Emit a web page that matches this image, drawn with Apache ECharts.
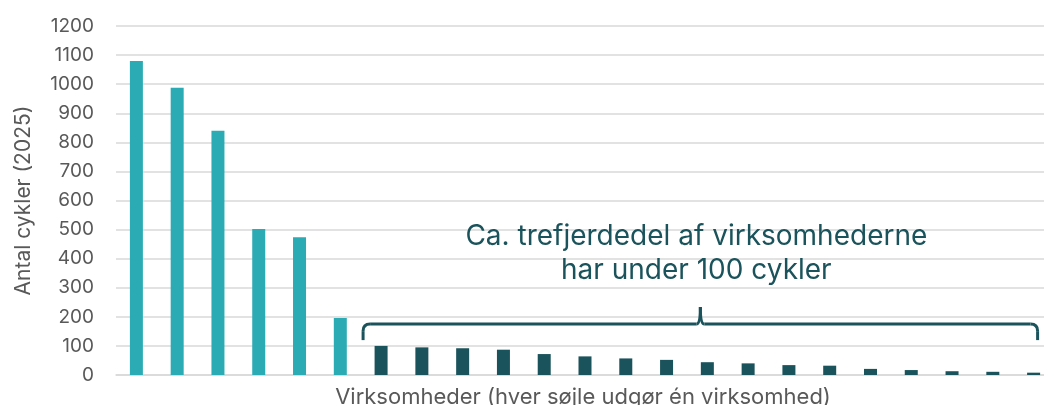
<!DOCTYPE html>
<html>
<head>
<meta charset="utf-8">
<script src="https://cdn.jsdelivr.net/npm/echarts@6/dist/echarts.min.js"></script>
<style>
  html, body { margin: 0; padding: 0; background: #fff; }
  #chart { width: 1044px; height: 405px; }
</style>
</head>
<body>
<div id="chart"></div>
<script>
// en søjle pr. virksomhed, sorteret efter antal cykler
const firms = ['V1','V2','V3','V4','V5','V6','V7','V8','V9','V10','V11','V12',
  'V13','V14','V15','V16','V17','V18','V19','V20','V21','V22','V23'];
const bikes = [1080, 988, 840, 502, 474, 196, 100, 95, 92, 87, 72, 64,
  57, 52, 44, 40, 34, 32, 21, 17, 13, 11, 8];
const largeCount = 6; // de første søjler med lys farve
const yTicks = [0, 1200, 100];
const noteLines = ['Ca. trefjerdedel af virksomhederne', 'har under 100 cykler'];

const LIGHT = '#2BABB3';
const DARK = '#1A535B';
const FONT = 'Inter';

var myChart = echarts.init(document.getElementById('chart'));

myChart.setOption({
  animation: false,
  grid: {
    left: 116,
    top: 26,
    bottom: 30,
    width: 938,
    outerBoundsMode: 'none'
  },
  xAxis: {
    type: 'category',
    data: firms,
    name: 'Virksomheder (hver søjle udgør én virksomhed)',
    nameLocation: 'middle',
    nameGap: 11,
    nameTextStyle: { fontFamily: FONT, fontSize: 22, color: '#595959', verticalAlign: 'top', padding: [0, 0, 0, -4] },
    axisLine: { lineStyle: { color: '#D9D9D9', width: 1.5 } },
    axisTick: { show: false },
    axisLabel: { show: false }
  },
  yAxis: {
    type: 'value',
    min: yTicks[0],
    max: yTicks[1],
    interval: yTicks[2],
    name: 'Antal cykler (2025)',
    nameLocation: 'middle',
    nameGap: 82,
    nameTextStyle: { fontFamily: FONT, fontSize: 21, color: '#595959' },
    axisLine: { show: false },
    axisTick: { show: false },
    axisLabel: {
      fontFamily: FONT, fontSize: 19, color: '#595959', margin: 22,
      formatter: function (v) { return String(v); }
    },
    splitLine: { lineStyle: { color: '#D9D9D9', width: 1.5 } }
  },
  series: [
    {
      type: 'bar',
      data: bikes,
      barWidth: 13,
      itemStyle: {
        color: function (p) { return p.dataIndex < largeCount ? LIGHT : DARK; }
      }
    }
  ]
});

// krøllet parentes over de små virksomheder
function px(idx, val) { return myChart.convertToPixel({ gridIndex: 0 }, [idx, val]); }
const x0 = px(largeCount, 0)[0] - 18;
const x1 = px(firms.length - 1, 0)[0] + 4;
const xm = (x0 + x1) / 2;
const yh = px(0, 175)[1];
const yb = px(0, 120)[1];
const yp = px(0, 234)[1];
const r = 7;
const braceStyle = { stroke: DARK, lineWidth: 3, fill: null };
const textPos = px(0, 419);

myChart.setOption({
  graphic: [
    { type: 'line', shape: { x1: x0, y1: yb, x2: x0, y2: yh + r }, style: braceStyle },
    { type: 'bezierCurve', shape: { x1: x0, y1: yh + r, cpx1: x0, cpy1: yh, x2: x0 + r, y2: yh }, style: braceStyle },
    { type: 'line', shape: { x1: x0 + r, y1: yh, x2: xm - 4, y2: yh }, style: braceStyle },
    { type: 'bezierCurve', shape: { x1: xm - 4, y1: yh, cpx1: xm, cpy1: yh, x2: xm, y2: yp }, style: braceStyle },
    { type: 'bezierCurve', shape: { x1: xm, y1: yp, cpx1: xm, cpy1: yh, x2: xm + 4, y2: yh }, style: braceStyle },
    { type: 'line', shape: { x1: xm + 4, y1: yh, x2: x1 - r, y2: yh }, style: braceStyle },
    { type: 'bezierCurve', shape: { x1: x1 - r, y1: yh, cpx1: x1, cpy1: yh, x2: x1, y2: yh + r }, style: braceStyle },
    { type: 'line', shape: { x1: x1, y1: yh + r, x2: x1, y2: yb }, style: braceStyle },
    {
      type: 'text',
      x: xm - 4,
      y: textPos[1],
      style: {
        text: noteLines.join('\n'),
        fill: DARK,
        font: '28px ' + FONT,
        align: 'center',
        verticalAlign: 'middle',
        lineHeight: 34
      }
    }
  ]
});
</script>
</body>
</html>
